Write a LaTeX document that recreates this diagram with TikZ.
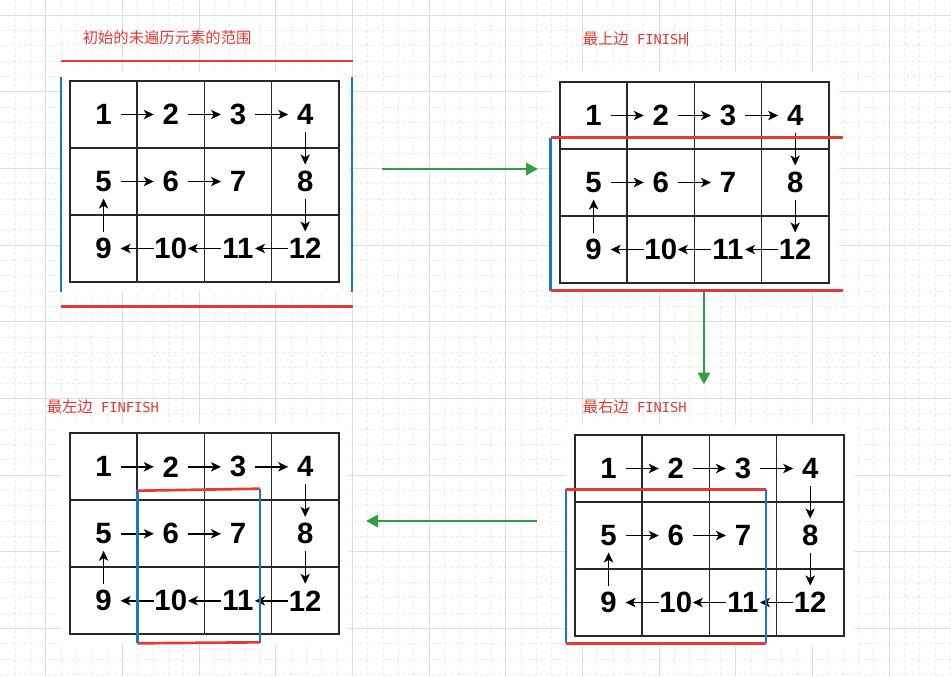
\documentclass[tikz,border=0pt]{standalone}
\usepackage{fontspec}
\setmainfont{Liberation Sans}
\newfontfamily\cjk{Noto Sans CJK SC}
\newfontfamily\mono{DejaVu Sans Mono}
\usetikzlibrary{arrows.meta}
\definecolor{myred}{RGB}{229,57,53}
\definecolor{myblue}{RGB}{25,118,210}
\definecolor{mygreen}{RGB}{46,160,67}
\definecolor{gridline}{RGB}{40,40,40}
\tikzset{
  minorline/.style={draw=black!8,line width=0.75pt,dash pattern=on 2.25pt off 2.25pt},
  majorline/.style={draw=black!13,line width=0.75pt},
  cell/.style={draw=gridline,line width=1.3pt,fill=white,rectangle,inner sep=0pt,outer sep=0pt,minimum width=50.4pt,minimum height=50.25pt},
  num/.style={rectangle,inner sep=0pt,outer sep=0pt,minimum width=25.5pt,minimum height=25.5pt,font=\fontsize{22pt}{24pt}\selectfont\bfseries},
  arr/.style={draw=black,line width=1.05pt,-{Stealth[length=7.5pt,width=7pt,inset=2pt]}},
  redline/.style={draw=myred,line width=2pt},
  blueline/.style={draw=myblue,line width=2pt},
  greenarrow/.style={draw=mygreen,line width=2.2pt,-{Triangle[length=9pt,width=9pt]}},
  label/.style={text=myred,anchor=west,inner sep=0pt,font=\fontsize{11.5pt}{13pt}\selectfont},
}
\newcommand\mygrid[3]{%
  \fill[white] (#2-10,#3-10) rectangle ++(289,221);
  \foreach \cc in {0,...,3}{
    \foreach \rr in {0,...,2}{
      \pgfmathtruncatemacro\cellno{\rr*4+\cc+1}
      \node[cell] (#1c\cellno) at (#2+33.6+\cc*67.2,#3+33.5+\rr*67) {};
      \node[num] (#1n\cellno) at (#1c\cellno.center) {\cellno};
    }
  }
  \foreach \aa/\bb in {1/2,2/3,3/4,4/8,8/12,12/11,11/10,10/9,9/5,5/6,6/7}
    \draw[arr] (#1n\aa) -- (#1n\bb);
}
\newcommand\fin[1]{{\mono\fontsize{10.3pt}{13pt}\selectfont\ #1}}
\begin{document}
\begin{tikzpicture}[x=0.75pt,y=-0.75pt]
\useasboundingbox (0,0) rectangle (951,676);
\fill[white] (0,0) rectangle (951,676);
% background grid
\foreach \i in {0,...,61}{
  \pgfmathsetmacro\xx{15+15.3333*\i}
  \draw[minorline] (\xx,0) -- (\xx,676);
}
\foreach \i in {0,...,43}{
  \pgfmathsetmacro\yy{15+15.3333*\i}
  \draw[minorline] (0,\yy) -- (951,\yy);
}
\foreach \i in {0,...,11}{
  \pgfmathsetmacro\xx{45.667+76.667*\i}
  \draw[majorline] (\xx,0) -- (\xx,676);
}
\foreach \i in {0,...,8}{
  \pgfmathsetmacro\yy{15+76.667*\i}
  \draw[majorline] (0,\yy) -- (951,\yy);
}
% grids
\mygrid{a}{70}{81}
\mygrid{b}{560}{82}
\mygrid{c}{70}{433.3}
\mygrid{d}{575}{435}
% labels
\node[label] (la) at (82.5,38) {\cjk 初始的未遍历元素的范围};
\node[label] (lb) at (582.5,39) {\cjk 最上边\fin{FINISH}};
\node[label] (lc) at (46.5,406.7) {\cjk 最左边\fin{FINFISH}};
\node[label] (ld) at (582.5,406.7) {\cjk 最右边\fin{FINISH}};
\draw[myred,line width=0.75pt] (lb.east) ++(1,-7) -- ++(0,14);
% range lines, grid 1
\draw[redline] (60.7,61) -- (353,61);
\draw[redline] (60.7,306.7) -- (353,306.7);
\draw[blueline] (61,76.7) -- (61,291.7);
\draw[blueline] (352,76.7) -- (352,291.7);
% grid 2
\draw[blueline] (550.7,137.7) -- (550.7,290.7);
\draw[redline] (550.7,137.7) -- (843.3,137.7);
\draw[redline] (550.7,290.7) -- (843.3,290.7);
% grid 3
\draw[blueline] (137.3,489.3) -- (137.3,643.3);
\draw[blueline] (260,489.3) -- (260,643.3);
\draw[redline] (137.3,490.7) -- (260,488.7);
\draw[redline] (137.3,643.3) -- (260,642.3);
% grid 4
\draw[blueline] (566,489.3) -- (566,643.3);
\draw[blueline] (766,489.3) -- (766,643.3);
\draw[redline] (566,489.3) -- (766,489.3);
\draw[redline] (566,643.3) -- (766,643.3);
% green arrows
\coordinate (g1s) at (382.3,169);
\coordinate (g1e) at (538,169);
\coordinate (g2s) at (704,291.7);
\coordinate (g2e) at (704,384.5);
\coordinate (g3s) at (536.7,521);
\coordinate (g3e) at (366,521);
\draw[greenarrow] (g1s) -- (g1e);
\draw[greenarrow] (g2s) -- (g2e);
\draw[greenarrow] (g3s) -- (g3e);
\end{tikzpicture}
\end{document}
